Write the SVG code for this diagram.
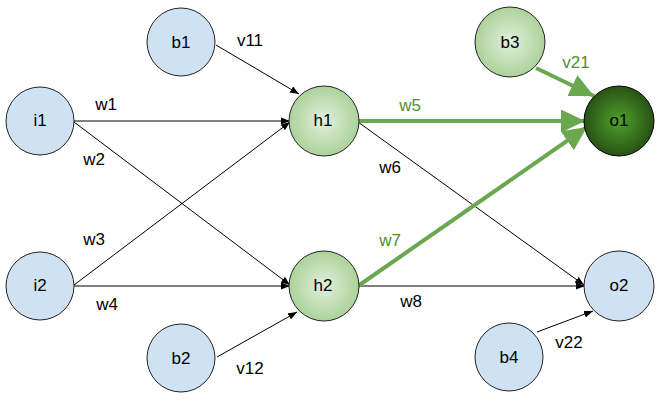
<svg xmlns="http://www.w3.org/2000/svg" width="669" height="401" viewBox="0 0 669 401">
<defs>
<radialGradient id="gLight" cx="50%" cy="50%" r="50%">
<stop offset="0" stop-color="#e2f0dc"/>
<stop offset="1" stop-color="#acd29a"/>
</radialGradient>
<radialGradient id="gDark" cx="50%" cy="50%" r="50%">
<stop offset="0" stop-color="#4fa12c"/>
<stop offset="1" stop-color="#285214"/>
</radialGradient>
<marker id="ab" markerUnits="userSpaceOnUse" markerWidth="10" markerHeight="8" refX="9" refY="4" orient="auto">
<path d="M0,0.5 L9,4 L0,7.5 z" fill="#000"/>
</marker>
<marker id="ag" markerUnits="userSpaceOnUse" markerWidth="26" markerHeight="24" refX="24" refY="11.5" orient="auto">
<path d="M0,0 L24,11.5 L0,23 z" fill="#6aa84f"/>
</marker>
</defs>
<style>
.n{fill:#cfe2f3;stroke:#222;stroke-width:1}
.ng{fill:url(#gLight);stroke:#222;stroke-width:1}
.nd{fill:url(#gDark);stroke:#000;stroke-width:1}
.t{font-family:"Liberation Sans",Arial,sans-serif;font-size:17px;fill:#000;text-anchor:middle}
.tg{fill:#4e8f33}
.e{stroke:#000;stroke-width:1;fill:none;marker-end:url(#ab)}
.eg{stroke:#6aa84f;stroke-width:4;fill:none;marker-end:url(#ag)}
</style>
<g id="connectors">
<line class="e" x1="74" y1="121" x2="290" y2="121"/>
<line class="e" x1="74" y1="122" x2="290" y2="285"/>
<line class="e" x1="74" y1="285" x2="290" y2="122"/>
<line class="e" x1="74" y1="286" x2="290" y2="286"/>
<line class="e" x1="216" y1="45" x2="299" y2="94"/>
<line class="e" x1="217" y1="357" x2="297" y2="312"/>
<line class="e" x1="358" y1="122" x2="584" y2="285"/>
<line class="e" x1="358" y1="286" x2="585" y2="286"/>
<line class="e" x1="537" y1="332" x2="593" y2="311"/>
<line class="eg" x1="358" y1="121" x2="585" y2="121"/>
<line class="eg" x1="358" y1="286" x2="587" y2="127"/>
<line class="eg" x1="536" y1="68" x2="594" y2="96"/>
<text class="t" x="106" y="110">w1</text>
<text class="t" x="94" y="165">w2</text>
<text class="t" x="94" y="245">w3</text>
<text class="t" x="107" y="310">w4</text>
<text class="t tg" x="410" y="111">w5</text>
<text class="t" x="390" y="173">w6</text>
<text class="t tg" x="390" y="246">w7</text>
<text class="t" x="411" y="307">w8</text>
<text class="t" x="250" y="46">v11</text>
<text class="t" x="250" y="374">v12</text>
<text class="t tg" x="576" y="68">v21</text>
<text class="t" x="569" y="348">v22</text>
</g>
<g id="i1"><circle class="n" cx="40" cy="121" r="34"/><text class="t" x="40" y="126">i1</text></g>
<g id="i2"><circle class="n" cx="40" cy="286" r="34"/><text class="t" x="40" y="291">i2</text></g>
<g id="b1"><circle class="n" cx="181" cy="42" r="34"/><text class="t" x="181" y="48">b1</text></g>
<g id="b2"><circle class="n" cx="181" cy="358" r="34"/><text class="t" x="181" y="364">b2</text></g>
<g id="h1"><circle class="ng" cx="324" cy="121" r="35"/><text class="t" x="323" y="126">h1</text></g>
<g id="h2"><circle class="ng" cx="324" cy="286" r="35"/><text class="t" x="323" y="291">h2</text></g>
<g id="b3"><circle class="ng" cx="510" cy="42" r="35"/><text class="t" x="510" y="48">b3</text></g>
<g id="o1"><circle class="nd" cx="619" cy="121" r="35"/><text class="t" x="619" y="126">o1</text></g>
<g id="o2"><circle class="n" cx="619" cy="286" r="35"/><text class="t" x="619" y="291">o2</text></g>
<g id="b4"><circle class="n" cx="509" cy="357" r="34"/><text class="t" x="509" y="363">b4</text></g>
</svg>
